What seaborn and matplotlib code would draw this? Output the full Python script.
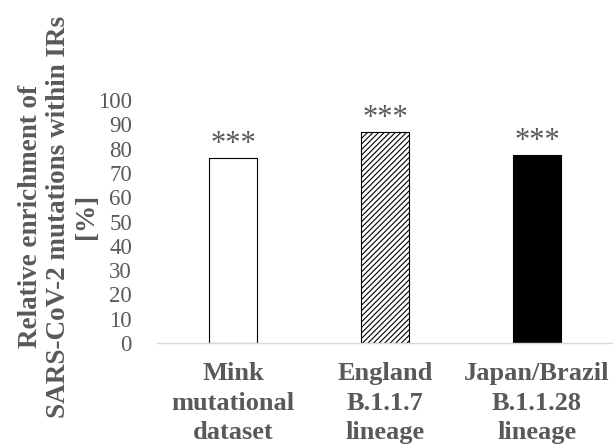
import matplotlib
matplotlib.use("Agg")
import matplotlib.pyplot as plt
import seaborn as sns
import pandas as pd

categories = ["Mink\nmutational\ndataset", "England\nB.1.1.7\nlineage", "Japan/Brazil\nB.1.1.28\nlineage"]
values = [76.3, 87.0, 77.5]
stars = ["***", "***", "***"]
yticks = [0, 10, 20, 30, 40, 50, 60, 70, 80, 90, 100]

grey = "#595959"

sns.set_style("white")
plt.rcParams["font.family"] = ["Liberation Serif", "DejaVu Serif"]
plt.rcParams["hatch.linewidth"] = 0.8

df = pd.DataFrame({"group": categories, "value": values})

fig = plt.figure(figsize=(6.13, 4.47), dpi=100)
ax = fig.add_axes([0.256, 0.2327, 0.744, 0.5433])

sns.barplot(data=df, x="group", y="value", ax=ax, width=0.315,
            color="white", edgecolor="black", linewidth=0.8)

# per-bar styling: open, hatched, filled
fills = ["white", "white", "black"]
hatches = [None, "//////", None]
for patch, fc, h in zip(ax.patches, fills, hatches):
    patch.set_facecolor(fc)
    patch.set_edgecolor("black")
    if h:
        patch.set_hatch(h)

for i, (v, s) in enumerate(zip(values, stars)):
    ax.text(i, v + 2.3, s, ha="center", va="baseline", fontsize=22,
            color=grey, clip_on=False)

ax.set_ylim(0, 100)
ax.set_xlim(-0.5, 2.5)
ax.set_yticks(yticks)
ax.set_yticklabels([str(t) for t in yticks], fontsize=16.5, color=grey)
ax.set_xticks(range(len(categories)))
ax.set_xticklabels(categories, fontsize=19, fontweight="bold", color=grey,
                   linespacing=1.35)
ax.tick_params(axis="x", length=0, pad=14)
ax.tick_params(axis="y", length=0, pad=18)
ax.set_xlabel("")
ax.set_ylabel("")

for side in ["top", "right", "left"]:
    ax.spines[side].set_visible(False)
ax.spines["bottom"].set_color("#d9d9d9")
ax.spines["bottom"].set_linewidth(1.0)

fig.text(0.095, 0.515, "Relative enrichment of\nSARS-CoV-2 mutations within IRs\n[%]",
         rotation=90, ha="center", va="center", fontsize=19.5, fontweight="bold",
         color=grey, linespacing=1.15, multialignment="center")

fig.savefig("out.png", dpi=100)
